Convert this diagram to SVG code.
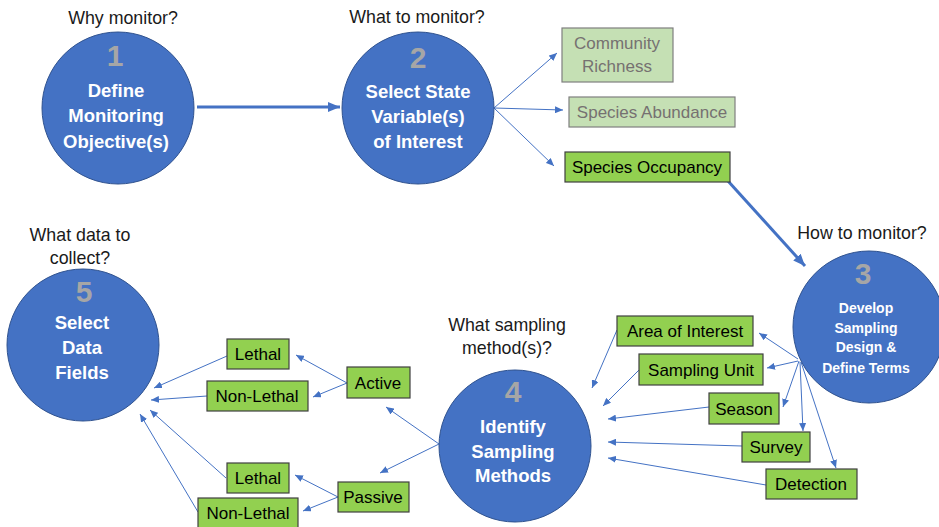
<svg xmlns="http://www.w3.org/2000/svg" width="939" height="527" viewBox="0 0 939 527">
<defs>
<marker id="ah" markerUnits="userSpaceOnUse" markerWidth="8" markerHeight="7" refX="8" refY="3.5" orient="auto"><path d="M0,0 L8,3.5 L0,7 z" fill="#4472C4"/></marker>
<marker id="ahb" markerUnits="userSpaceOnUse" markerWidth="12" markerHeight="10" refX="12" refY="5" orient="auto"><path d="M0,0 L12,5 L0,10 z" fill="#4472C4"/></marker>
</defs>
<style>
text{font-family:"Liberation Sans",Arial,sans-serif}
.q{font-size:17.8px;fill:#1a1a1a;text-anchor:middle}
.c{fill:#4472C4;stroke:#2F528F;stroke-width:1}
.num{font-size:30px;font-weight:bold;fill:#A6A6A6;text-anchor:middle}
.ct{font-size:18.5px;font-weight:bold;fill:#fff;text-anchor:middle}
.ct3{font-size:14px;font-weight:bold;fill:#fff;text-anchor:middle}
.bx{fill:#92D050;stroke:#404040;stroke-width:1.2}
.lbx{fill:#C5E0B4;stroke:#7F7F7F;stroke-width:1.2}
.bt{font-size:17px;fill:#000;text-anchor:middle}
.lbt{font-size:17px;fill:#767171;text-anchor:middle}
.thin{stroke:#4472C4;stroke-width:1;fill:none;marker-end:url(#ah)}
.thick{stroke:#4472C4;stroke-width:3;fill:none;marker-end:url(#ahb)}
</style>
<rect width="939" height="527" fill="#fff"/>

<g id="connectors">
<line class="thick" x1="197" y1="107" x2="340" y2="107"/>
<line class="thick" x1="728" y1="181" x2="805" y2="266"/>
<line class="thin" x1="494" y1="108" x2="557" y2="53"/>
<line class="thin" x1="494" y1="108" x2="563" y2="110"/>
<line class="thin" x1="494" y1="108" x2="554" y2="166"/>
<line class="thin" x1="798" y1="359" x2="759" y2="333"/>
<line class="thin" x1="798" y1="361" x2="767" y2="368"/>
<line class="thin" x1="799" y1="361" x2="783" y2="407"/>
<line class="thin" x1="800" y1="362" x2="803" y2="431"/>
<line class="thin" x1="801" y1="362" x2="836" y2="468"/>
<line class="thin" x1="617" y1="330" x2="592" y2="388"/>
<line class="thin" x1="639" y1="370" x2="603" y2="406"/>
<line class="thin" x1="709" y1="407" x2="608" y2="419"/>
<line class="thin" x1="742" y1="446" x2="608" y2="442"/>
<line class="thin" x1="766" y1="485" x2="608" y2="458"/>
<line class="thin" x1="439" y1="444" x2="386" y2="407"/>
<line class="thin" x1="439" y1="444" x2="380" y2="473"/>
<line class="thin" x1="347" y1="383" x2="296" y2="355"/>
<line class="thin" x1="347" y1="383" x2="313" y2="397"/>
<line class="thin" x1="338" y1="497" x2="295" y2="475"/>
<line class="thin" x1="338" y1="497" x2="303" y2="511"/>
<line class="thin" x1="227" y1="356" x2="154" y2="388"/>
<line class="thin" x1="207" y1="396" x2="151" y2="400"/>
<line class="thin" x1="226" y1="478" x2="150" y2="410"/>
<line class="thin" x1="198" y1="512" x2="140" y2="414"/>
</g>

<g id="node1">
<text class="q" x="123" y="24">Why monitor?</text>
<circle class="c" cx="118" cy="108" r="76"/>
<text class="num" x="115" y="66">1</text>
<text class="ct" x="116" y="97">Define</text>
<text class="ct" x="116" y="122">Monitoring</text>
<text class="ct" x="116" y="148">Objective(s)</text>
</g>

<g id="node2">
<text class="q" x="417" y="23">What to monitor?</text>
<circle class="c" cx="418" cy="108" r="76"/>
<text class="num" x="418" y="68">2</text>
<text class="ct" x="418" y="98">Select State</text>
<text class="ct" x="418" y="123">Variable(s)</text>
<text class="ct" x="418" y="148">of Interest</text>
</g>

<g id="community">
<rect class="lbx" x="562" y="28" width="111" height="54"/>
<text class="lbt" x="617" y="49">Community</text>
<text class="lbt" x="617" y="72">Richness</text>
</g>
<g id="abundance">
<rect class="lbx" x="569" y="97" width="166" height="30"/>
<text class="lbt" x="652" y="118">Species Abundance</text>
</g>
<g id="occupancy">
<rect class="bx" x="565" y="152" width="165" height="30"/>
<text class="bt" x="647" y="173">Species Occupancy</text>
</g>

<g id="node3">
<text class="q" x="862" y="239">How to monitor?</text>
<circle class="c" cx="869" cy="327" r="76"/>
<text class="num" x="863" y="284">3</text>
<text class="ct3" x="866" y="313">Develop</text>
<text class="ct3" x="866" y="333">Sampling</text>
<text class="ct3" x="866" y="352">Design &amp;</text>
<text class="ct3" x="866" y="373">Define Terms</text>
</g>

<g id="area">
<rect class="bx" x="617" y="316" width="136" height="30"/>
<text class="bt" x="685" y="337">Area of Interest</text>
</g>
<g id="unit">
<rect class="bx" x="639" y="354" width="124" height="31"/>
<text class="bt" x="701" y="376">Sampling Unit</text>
</g>
<g id="season">
<rect class="bx" x="709" y="393" width="70" height="31"/>
<text class="bt" x="744" y="415">Season</text>
</g>
<g id="survey">
<rect class="bx" x="742" y="432" width="68" height="30"/>
<text class="bt" x="776" y="453">Survey</text>
</g>
<g id="detection">
<rect class="bx" x="766" y="469" width="91" height="30"/>
<text class="bt" x="811" y="490">Detection</text>
</g>

<g id="node4">
<text class="q" x="507" y="331">What sampling</text>
<text class="q" x="507" y="354">method(s)?</text>
<circle class="c" cx="515" cy="446" r="76"/>
<text class="num" x="513" y="402">4</text>
<text class="ct" x="513" y="433">Identify</text>
<text class="ct" x="513" y="458">Sampling</text>
<text class="ct" x="513" y="482">Methods</text>
</g>

<g id="active">
<rect class="bx" x="347" y="367" width="63" height="31"/>
<text class="bt" x="378" y="389">Active</text>
</g>
<g id="passive">
<rect class="bx" x="338" y="482" width="71" height="30"/>
<text class="bt" x="373" y="503">Passive</text>
</g>
<g id="lethal1">
<rect class="bx" x="227" y="339" width="62" height="30"/>
<text class="bt" x="258" y="360">Lethal</text>
</g>
<g id="nonlethal1">
<rect class="bx" x="207" y="381" width="101" height="30"/>
<text class="bt" x="257" y="402">Non-Lethal</text>
</g>
<g id="lethal2">
<rect class="bx" x="227" y="463" width="62" height="30"/>
<text class="bt" x="258" y="484">Lethal</text>
</g>
<g id="nonlethal2">
<rect class="bx" x="198" y="498" width="100" height="30"/>
<text class="bt" x="248" y="519">Non-Lethal</text>
</g>

<g id="node5">
<text class="q" x="80" y="241">What data to</text>
<text class="q" x="80" y="264">collect?</text>
<circle class="c" cx="83" cy="345" r="76"/>
<text class="num" x="84" y="302">5</text>
<text class="ct" x="82" y="329">Select</text>
<text class="ct" x="82" y="354">Data</text>
<text class="ct" x="82" y="379">Fields</text>
</g>
</svg>
